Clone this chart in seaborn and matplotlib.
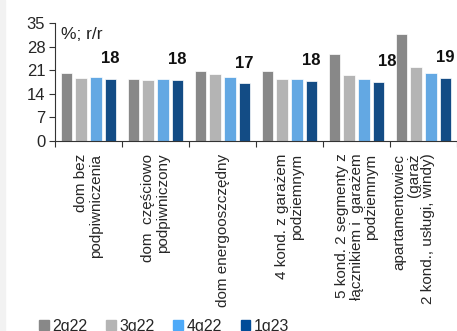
import pandas as pd
import seaborn as sns
import matplotlib.pyplot as plt
import matplotlib.transforms as mtransforms
from matplotlib.patches import Rectangle

# dane
kategorie = ['dom bez\npodpiwniczenia',
             'dom  częściowo\npodpiwniczony',
             'dom energooszczędny',
             '4 kond. z garażem\npodziemnym',
             '5 kond. 2 segmenty z\nłącznikiem i  garażem\npodziemnym',
             'apartamentowiec\n(garaż\n2 kond., usługi, windy)']
kwartaly = ['2q22', '3q22', '4q22', '1q23']
q2_22 = [20.1, 18.5, 20.7, 20.8, 25.8, 31.8]
q3_22 = [18.8, 18.0, 19.9, 18.4, 19.6, 21.9]
q4_22 = [19.0, 18.5, 19.0, 18.5, 18.5, 20.1]
q1_23 = [18.4, 18.1, 17.2, 17.8, 17.6, 18.7]

kolory = ['#888888', '#b4b4b4', '#4eaaf8', '#004c98']

df = pd.DataFrame({'kat': kategorie, '2q22': q2_22, '3q22': q3_22,
                   '4q22': q4_22, '1q23': q1_23})
df_long = df.melt(id_vars='kat', var_name='kwartal', value_name='wart')

sns.set_style('white')
plt.rcParams['font.family'] = ['Liberation Sans', 'DejaVu Sans']

fig = plt.figure(figsize=(4.57, 3.31), dpi=100)
fig.patches.append(Rectangle((0, 0), 5 / 457, 1, transform=fig.transFigure,
                             color='#f2f2f2', zorder=0))
ax = fig.add_axes([55 / 457, 190 / 331, 402 / 457, 118 / 331])

sns.barplot(data=df_long, x='kat', y='wart', hue='kwartal', order=kategorie,
            hue_order=kwartaly, palette=kolory, width=0.876, gap=0.2,
            edgecolor='white', linewidth=0.5, ax=ax, legend=False)

# etykiety nad ostatnim słupkiem
ostatnie = ax.containers[-1]
przesun = [0, 0, 0, 0, 9, 0]
for bar, v, dx in zip(ostatnie, q1_23, przesun):
    ax.annotate(f'{v:.0f}', (bar.get_x() + bar.get_width() / 2, bar.get_height()),
                xytext=(dx, 20), textcoords='offset pixels', ha='center', va='center',
                fontsize=12, fontweight='bold', color='#111111')

ax.set_ylim(0, 35)
ax.set_yticks([0, 7, 14, 21, 28, 35])
ax.set_xlim(-0.5, 5.447)
ax.set_xlabel('')
ax.set_ylabel('')
ax.set_xticks(range(6))
ax.set_xticklabels(kategorie, rotation=90, va='top', ha='center',
                   multialignment='right', fontsize=11, linespacing=1.05)
ax.set_xticks([i - 0.5 for i in range(7)], minor=True)
ax.tick_params(axis='x', which='major', length=0, pad=9)
ax.tick_params(axis='x', which='minor', length=4, width=0.8, color='#333333', direction='out')
ax.tick_params(axis='y', length=4, width=0.8, color='#333333', direction='out',
               labelsize=12, pad=3)
ax.yaxis.set_ticks_position('left')
ax.xaxis.set_ticks_position('bottom')
for s in ['top', 'right']:
    ax.spines[s].set_visible(False)
for s in ['left', 'bottom']:
    ax.spines[s].set_color('#333333')
    ax.spines[s].set_linewidth(0.8)

# ostatni opis lekko w lewo, jak w oryginale
ost = ax.get_xticklabels()[-1]
ost.set_transform(ost.get_transform() +
                  mtransforms.ScaledTranslation(-0.1, 0, fig.dpi_scale_trans))

ax.text(0.016, 0.965, '%; r/r', transform=ax.transAxes, fontsize=12.5,
        va='top', ha='left', color='#222222')

uchwyty = [Rectangle((0, 0), 1, 1, color=c) for c in kolory]
fig.legend(uchwyty, kwartaly, loc='center left', bbox_to_anchor=(39 / 457, 5 / 331),
           ncol=4, frameon=False, fontsize=11.5, handlelength=0.6, handleheight=0.6,
           handletextpad=0.25, columnspacing=1.15, borderpad=0, borderaxespad=0)

fig.savefig('out.png', dpi=100)
